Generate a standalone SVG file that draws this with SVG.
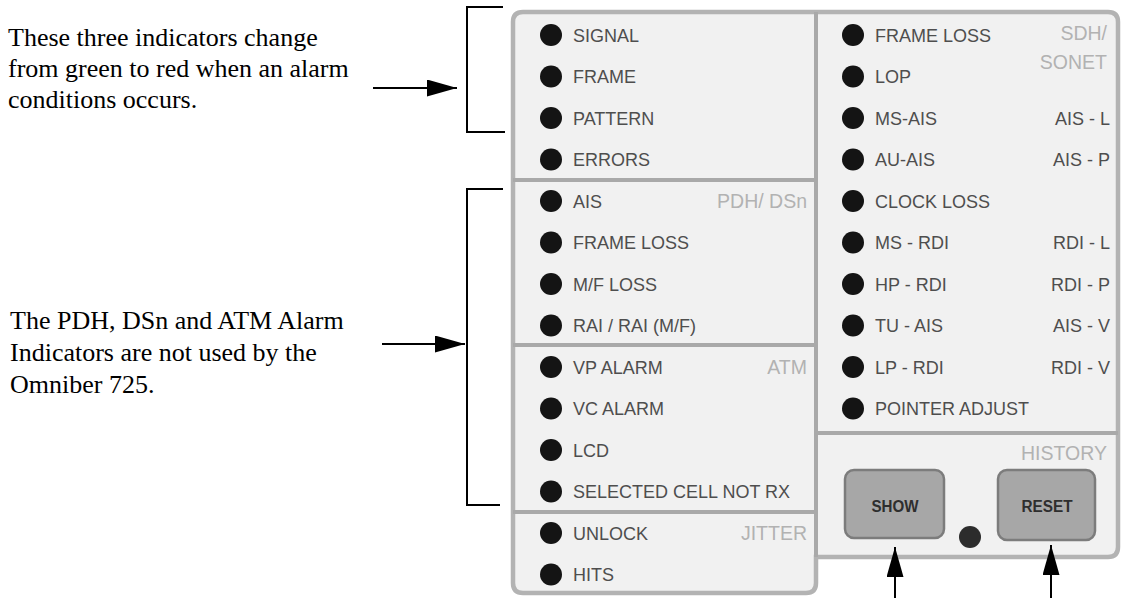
<svg xmlns="http://www.w3.org/2000/svg" width="1122" height="598" viewBox="0 0 1122 598">
<style>
.note{font-family:"Liberation Serif","Times New Roman",serif;font-size:26px;fill:#000}
.lbl{font-family:"Liberation Sans",Arial,sans-serif;font-size:18px;fill:#4e4e4e}
.rl{font-family:"Liberation Sans",Arial,sans-serif;font-size:18px;fill:#4e4e4e;text-anchor:end}
.grp{font-family:"Liberation Sans",Arial,sans-serif;font-size:19.5px;fill:#b2b2b2;text-anchor:end}
.led{fill:#141414}
.div{stroke:#a9a9a9;stroke-width:4;fill:none}
.btn{fill:#a7a7a7;stroke:#7c7c7c;stroke-width:2.5}
.btxt{font-family:"Liberation Sans",Arial,sans-serif;font-size:16px;font-weight:bold;fill:#2e2e2e;text-anchor:middle}
.con{stroke:#000;stroke-width:2;fill:none}
</style>
<defs>
<marker id="ah" markerUnits="userSpaceOnUse" markerWidth="30" markerHeight="17" refX="30" refY="8.5" orient="auto">
<path d="M0,0 L30,8.5 L0,17 Z" fill="#000"/>
</marker>
</defs>
<rect width="1122" height="598" fill="#fff"/>

<g id="note-top">
<text class="note" x="8" y="46">These three indicators change</text>
<text class="note" x="8" y="77">from green to red when an alarm</text>
<text class="note" x="8" y="108">conditions occurs.</text>
</g>
<g id="note-middle">
<text class="note" x="10" y="329">The PDH, DSn and ATM Alarm</text>
<text class="note" x="10" y="361">Indicators are not used by the</text>
<text class="note" x="10" y="393">Omniber 725.</text>
</g>

<g id="panel">
<path d="M523 12 H1108 Q1118 12 1118 22 V547 Q1118 557 1108 557 H816 V583 Q816 593 806 593 H523 Q513 593 513 583 V22 Q513 12 523 12 Z" fill="#f1f1f1" stroke="#b3b3b3" stroke-width="4.5"/>
<path class="div" d="M816 12 V557 M513 180 H816 M513 345 H816 M513 512 H816 M816 433 H1118"/>
</g>

<g id="section-general">
<circle class="led" cx="551" cy="35" r="11"/><text class="lbl" x="573" y="41.5">SIGNAL</text>
<circle class="led" cx="551" cy="76.5" r="11"/><text class="lbl" x="573" y="83">FRAME</text>
<circle class="led" cx="551" cy="118" r="11"/><text class="lbl" x="573" y="124.5">PATTERN</text>
<circle class="led" cx="551" cy="159.5" r="11"/><text class="lbl" x="573" y="166">ERRORS</text>
</g>

<g id="section-pdh">
<text class="grp" x="807" y="208">PDH/ DSn</text>
<circle class="led" cx="551" cy="201" r="11"/><text class="lbl" x="573" y="207.5">AIS</text>
<circle class="led" cx="551" cy="242.5" r="11"/><text class="lbl" x="573" y="249">FRAME LOSS</text>
<circle class="led" cx="551" cy="284" r="11"/><text class="lbl" x="573" y="290.5">M/F LOSS</text>
<circle class="led" cx="551" cy="325.5" r="11"/><text class="lbl" x="573" y="332">RAI / RAI (M/F)</text>
</g>

<g id="section-atm">
<text class="grp" x="807" y="374">ATM</text>
<circle class="led" cx="551" cy="367" r="11"/><text class="lbl" x="573" y="373.5">VP ALARM</text>
<circle class="led" cx="551" cy="408.5" r="11"/><text class="lbl" x="573" y="415">VC ALARM</text>
<circle class="led" cx="551" cy="450" r="11"/><text class="lbl" x="573" y="456.5">LCD</text>
<circle class="led" cx="551" cy="491.5" r="11"/><text class="lbl" x="573" y="498">SELECTED CELL NOT RX</text>
</g>

<g id="section-jitter">
<text class="grp" x="807" y="540">JITTER</text>
<circle class="led" cx="551" cy="533" r="11"/><text class="lbl" x="573" y="539.5">UNLOCK</text>
<circle class="led" cx="551" cy="574.5" r="11"/><text class="lbl" x="573" y="581">HITS</text>
</g>

<g id="section-sdh">
<text class="grp" x="1107" y="40">SDH/</text>
<text class="grp" x="1107" y="69">SONET</text>
<circle class="led" cx="853" cy="35" r="11"/><text class="lbl" x="875" y="41.5">FRAME LOSS</text>
<circle class="led" cx="853" cy="76.5" r="11"/><text class="lbl" x="875" y="83">LOP</text>
<circle class="led" cx="853" cy="118" r="11"/><text class="lbl" x="875" y="124.5">MS-AIS</text><text class="rl" x="1110" y="124.5">AIS - L</text>
<circle class="led" cx="853" cy="159.5" r="11"/><text class="lbl" x="875" y="166">AU-AIS</text><text class="rl" x="1110" y="166">AIS - P</text>
<circle class="led" cx="853" cy="201" r="11"/><text class="lbl" x="875" y="207.5">CLOCK LOSS</text>
<circle class="led" cx="853" cy="242.5" r="11"/><text class="lbl" x="875" y="249">MS - RDI</text><text class="rl" x="1110" y="249">RDI - L</text>
<circle class="led" cx="853" cy="284" r="11"/><text class="lbl" x="875" y="290.5">HP - RDI</text><text class="rl" x="1110" y="290.5">RDI - P</text>
<circle class="led" cx="853" cy="325.5" r="11"/><text class="lbl" x="875" y="332">TU - AIS</text><text class="rl" x="1110" y="332">AIS - V</text>
<circle class="led" cx="853" cy="367" r="11"/><text class="lbl" x="875" y="373.5">LP - RDI</text><text class="rl" x="1110" y="373.5">RDI - V</text>
<circle class="led" cx="853" cy="408.5" r="11"/><text class="lbl" x="875" y="415">POINTER ADJUST</text>
</g>

<g id="section-history">
<text class="grp" x="1107" y="460">HISTORY</text>
<g id="btn-show">
<rect class="btn" x="845" y="470" width="99" height="68" rx="9"/>
<text class="btxt" x="895" y="512" textLength="47" lengthAdjust="spacingAndGlyphs">SHOW</text>
</g>
<circle id="history-led" cx="970" cy="537" r="11" fill="#2c2c2c"/>
<g id="btn-reset">
<rect class="btn" x="998" y="470" width="97" height="70" rx="9"/>
<text class="btxt" x="1047" y="512" textLength="51" lengthAdjust="spacingAndGlyphs">RESET</text>
</g>
</g>

<g id="connectors">
<path class="con" d="M503 7 H467 V132 H505"/>
<path class="con" d="M503 189 H467 V505 H500"/>
<line class="con" x1="373" y1="88" x2="457" y2="88" marker-end="url(#ah)"/>
<line class="con" x1="382" y1="344" x2="465" y2="344" marker-end="url(#ah)"/>
<line class="con" x1="895" y1="598" x2="895" y2="547" marker-end="url(#ah)"/>
<line class="con" x1="1051" y1="598" x2="1051" y2="545" marker-end="url(#ah)"/>
</g>
</svg>
